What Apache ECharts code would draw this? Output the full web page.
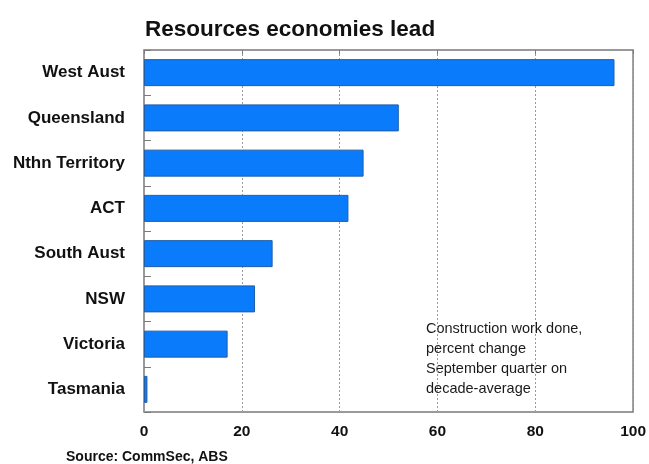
<!DOCTYPE html>
<html>
<head>
<meta charset="utf-8">
<script src="https://cdn.jsdelivr.net/npm/echarts@6/dist/echarts.min.js"></script>
<style>
  html, body { margin: 0; padding: 0; background: #ffffff; }
  #chart { width: 649px; height: 464px; }
</style>
</head>
<body>
<div id="chart"></div>
<script>
// States and territories, top to bottom
const regions = ['West Aust', 'Queensland', 'Nthn Territory', 'ACT', 'South Aust', 'NSW', 'Victoria', 'Tasmania'];
// Construction work done, % change, September quarter vs decade average
const changePct = [96.2, 52.1, 44.9, 41.8, 26.3, 22.7, 17.1, 0.7];
const xTicks = [0, 20, 40, 60, 80, 100];

const titleText = 'Resources economies lead';
const sourceText = 'Source: CommSec, ABS';
const noteLines = ['Construction work done,', 'percent change', 'September quarter on', 'decade-average'];

const chart = echarts.init(document.getElementById('chart'), null, { renderer: 'canvas' });

const fontFam = 'Liberation Sans, Arial, sans-serif';
const grid = { left: 144, right: 15, top: 50, bottom: 52 };

chart.setOption({
  backgroundColor: '#ffffff',
  animation: false,
  title: {
    text: titleText,
    left: 140,
    top: 13,
    textStyle: { fontFamily: fontFam, fontSize: 22.5, fontWeight: 'bold', color: '#111111' }
  },
  grid: Object.assign({ show: true, borderColor: '#7a7a7a', borderWidth: 1.5, backgroundColor: 'transparent' }, grid),
  xAxis: [{
    type: 'value',
    min: xTicks[0],
    max: xTicks[xTicks.length - 1],
    interval: 20,
    position: 'bottom',
    axisLine: { show: false },
    axisTick: { show: false },
    splitLine: { show: true, lineStyle: { color: '#9a9a9a', type: [2, 2], width: 1 } },
    axisLabel: {
      margin: 12,
      fontFamily: fontFam,
      fontSize: 15.5,
      fontWeight: 'bold',
      color: '#111111'
    }
  }, {
    type: 'value',
    min: xTicks[0],
    max: xTicks[xTicks.length - 1],
    interval: 20,
    position: 'top',
    axisLine: { show: false },
    axisTick: { show: true, inside: true, length: 4, lineStyle: { color: '#7a7a7a' } },
    splitLine: { show: false },
    axisLabel: { show: false }
  }],
  yAxis: {
    type: 'category',
    data: regions,
    inverse: true,
    axisLine: { show: false },
    axisTick: { show: true, inside: true, length: 7, lineStyle: { color: '#7a7a7a' } },
    axisLabel: {
      margin: 19,
      fontFamily: fontFam,
      fontSize: 17,
      fontWeight: 'bold',
      color: '#111111'
    }
  },
  series: [{
    type: 'bar',
    data: changePct,
    barWidth: 27,
    itemStyle: { color: '#0a7bfa', borderColor: '#1f5ea8', borderWidth: 1 }
  }],
  graphic: [
    {
      type: 'text',
      left: 426,
      top: 319,
      style: {
        text: noteLines.join('\n'),
        font: '14.5px "Liberation Sans", Arial, sans-serif',
        lineHeight: 20,
        fill: '#1a1a1a'
      }
    },
    {
      type: 'text',
      left: 66,
      top: 450,
      style: {
        text: sourceText,
        font: 'bold 14px "Liberation Sans", Arial, sans-serif',
        fill: '#111111'
      }
    }
  ]
});
</script>
</body>
</html>
